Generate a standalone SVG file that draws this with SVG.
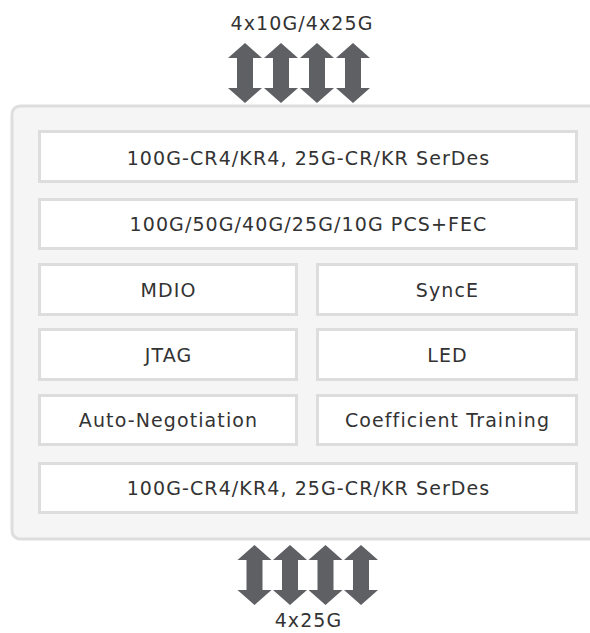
<svg xmlns="http://www.w3.org/2000/svg" xmlns:xlink="http://www.w3.org/1999/xlink" width="590" height="633" viewBox="0 0 590 633">
<style>
.panel{fill:#f5f5f5;stroke:#dedede;stroke-width:3}
.box{fill:#ffffff;stroke:#dddddd;stroke-width:3}
.t{font-family:"DejaVu Sans","Liberation Sans",sans-serif;font-size:19px;letter-spacing:1.1px;fill:#333333;text-anchor:middle}
.arr{fill:#5f6064}
</style>
<defs>
<path id="dbl" d="M0,0 L17,15 L8,15 L8,45 L17,45 L0,60 L-17,45 L-8,45 L-8,15 L-17,15 Z"/>
</defs>
<rect width="590" height="633" fill="#ffffff"/>
<g id="panel"><rect class="panel" x="12" y="106" width="600" height="433" rx="8"/></g>
<g id="serdes-top"><rect class="box" x="39.5" y="131.5" width="537" height="50"/><text class="t" x="308.5" y="165">100G-CR4/KR4, 25G-CR/KR SerDes</text></g>
<g id="pcs-fec"><rect class="box" x="39.5" y="199.5" width="537" height="49"/><text class="t" x="308.5" y="231">100G/50G/40G/25G/10G PCS+FEC</text></g>
<g id="mdio"><rect class="box" x="39.5" y="264.5" width="257" height="50"/><text class="t" x="168.5" y="297">MDIO</text></g>
<g id="synce"><rect class="box" x="317.5" y="264.5" width="259" height="50"/><text class="t" x="447.5" y="297">SyncE</text></g>
<g id="jtag"><rect class="box" x="39.5" y="329.5" width="257" height="50"/><text class="t" x="168.5" y="362">JTAG</text></g>
<g id="led"><rect class="box" x="317.5" y="329.5" width="259" height="50"/><text class="t" x="447.5" y="362">LED</text></g>
<g id="autoneg"><rect class="box" x="39.5" y="395.5" width="257" height="49"/><text class="t" x="168.5" y="427">Auto-Negotiation</text></g>
<g id="coeff"><rect class="box" x="317.5" y="395.5" width="259" height="49"/><text class="t" x="447.5" y="427">Coefficient Training</text></g>
<g id="serdes-bottom"><rect class="box" x="39.5" y="463.5" width="537" height="49"/><text class="t" x="308.5" y="495">100G-CR4/KR4, 25G-CR/KR SerDes</text></g>
<g id="label-top"><text class="t" x="302" y="30">4x10G/4x25G</text></g>
<g id="label-bottom"><text class="t" x="308.5" y="627">4x25G</text></g>
<g id="connectors" class="arr">
<use xlink:href="#dbl" x="245" y="43"/>
<use xlink:href="#dbl" x="281" y="43"/>
<use xlink:href="#dbl" x="317" y="43"/>
<use xlink:href="#dbl" x="353" y="43"/>
<use xlink:href="#dbl" x="254.5" y="545"/>
<use xlink:href="#dbl" x="290" y="545"/>
<use xlink:href="#dbl" x="325.5" y="545"/>
<use xlink:href="#dbl" x="361" y="545"/>
</g>
</svg>
